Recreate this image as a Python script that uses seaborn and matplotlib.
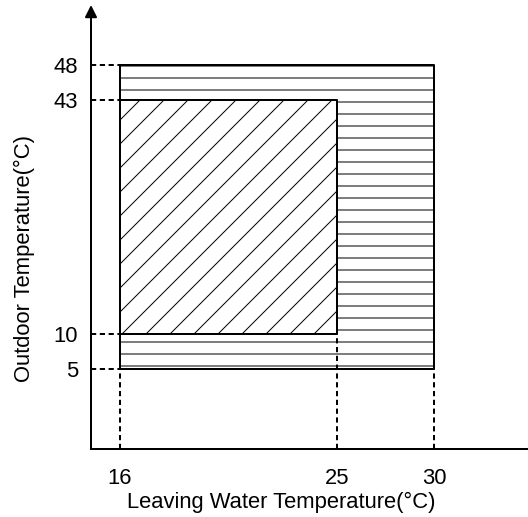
import numpy as np
import pandas as pd
import matplotlib
matplotlib.use("Agg")
import matplotlib.pyplot as plt
import seaborn as sns

# ---- data ----
water_ticks = [16, 25, 30]            # leaving water temperature (°C)
outdoor_ticks = [5, 10, 43, 48]       # outdoor temperature (°C)
outer_x = [16, 30]                    # full operating range (horizontal hatch)
outer_y = [5, 48]
inner_x = [16, 25]                    # inner range (diagonal hatch)
inner_y = [10, 43]
xlabel = "Leaving Water Temperature(°C)"
ylabel = "Outdoor Temperature(°C)"

# schematic (non-proportional) x axis: data value -> drawing unit
scale_x = [16, 25, 30]
scale_u = [0.0, 9.0, 13.02]
xlim = (14.8, 34.85)
ylim = (-6.28, 56.46)

sns.set_theme(style="white", rc={"hatch.linewidth": 0.5})
plt.rcParams["font.family"] = ["Liberation Sans", "DejaVu Sans"]


def _fwd(x):
    x = np.asarray(x, dtype=float)
    u = np.interp(x, scale_x, scale_u)
    sl = (scale_u[1] - scale_u[0]) / (scale_x[1] - scale_x[0])
    sr = (scale_u[-1] - scale_u[-2]) / (scale_x[-1] - scale_x[-2])
    u = np.where(x < scale_x[0], scale_u[0] + (x - scale_x[0]) * sl, u)
    u = np.where(x > scale_x[-1], scale_u[-1] + (x - scale_x[-1]) * sr, u)
    return u


def _inv(u):
    u = np.asarray(u, dtype=float)
    x = np.interp(u, scale_u, scale_x)
    sl = (scale_u[1] - scale_u[0]) / (scale_x[1] - scale_x[0])
    sr = (scale_u[-1] - scale_u[-2]) / (scale_x[-1] - scale_x[-2])
    x = np.where(u < scale_u[0], scale_x[0] + (u - scale_u[0]) / sl, x)
    x = np.where(u > scale_u[-1], scale_x[-1] + (u - scale_u[-1]) / sr, x)
    return x


DPI = 144
fig = plt.figure(figsize=(528 / DPI, 517 / DPI), dpi=DPI)
ax = fig.add_axes([91 / 528, 68 / 517, 437 / 528, 444 / 517])
ax.set_xscale("function", functions=(_fwd, _inv))
ax.set_xlim(*xlim)
ax.set_ylim(*ylim)

# outer region: horizontal hatch
ax.fill_between(outer_x, outer_y[0], outer_y[1], facecolor="white",
                edgecolor="black", hatch="--", linewidth=1.0, zorder=1)
# inner region: diagonal hatch
ax.fill_between(inner_x, inner_y[0], inner_y[1], facecolor="white",
                edgecolor="black", hatch="//", linewidth=1.0, zorder=2)

# dashed guide lines built from the data values
segs = []
sid = 0
for xv, ytop in zip(water_ticks, [outer_y[0], inner_y[0], outer_y[0]]):
    segs += [(sid, xv, ylim[0]), (sid, xv, ytop)]
    sid += 1
for yv in outdoor_ticks:
    segs += [(sid, xlim[0], yv), (sid, outer_x[0], yv)]
    sid += 1
guides = pd.DataFrame(segs, columns=["seg", "x", "y"])
sns.lineplot(data=guides, x="x", y="y", units="seg", estimator=None,
             sort=False, color="black", linewidth=1.0,
             linestyle=(0, (2.6, 1.8)), ax=ax, zorder=3, legend=False)

# axes styling
for s in ["top", "right", "left"]:
    ax.spines[s].set_visible(False)
ax.spines["bottom"].set_linewidth(1.0)
ax.spines["bottom"].set_color("black")
ax.annotate("", xy=(0, 1), xytext=(0, 0), xycoords="axes fraction",
            textcoords="axes fraction",
            arrowprops=dict(arrowstyle="-|>,head_length=0.5,head_width=0.25",
                            color="black", lw=1.0, shrinkA=0, shrinkB=0,
                            mutation_scale=10),
            annotation_clip=False)

ax.set_xticks(water_ticks)
ax.set_xticklabels([str(v) for v in water_ticks])
ax.set_yticks(outdoor_ticks)
ax.set_yticklabels([str(v) for v in outdoor_ticks])
ax.xaxis.set_minor_locator(matplotlib.ticker.NullLocator())
ax.tick_params(axis="x", length=0, pad=9.5, labelsize=11, colors="black")
ax.tick_params(axis="y", length=0, pad=6.5, labelsize=11, colors="black")
ax.grid(False)

ax.set_xlabel(xlabel, fontsize=11, color="black")
ax.set_ylabel(ylabel, fontsize=11, color="black")
ax.xaxis.set_label_coords(0.435, -0.097)
ax.yaxis.set_label_coords(-0.128, 0.428)

fig.savefig("out.png", dpi=DPI, facecolor="white")
